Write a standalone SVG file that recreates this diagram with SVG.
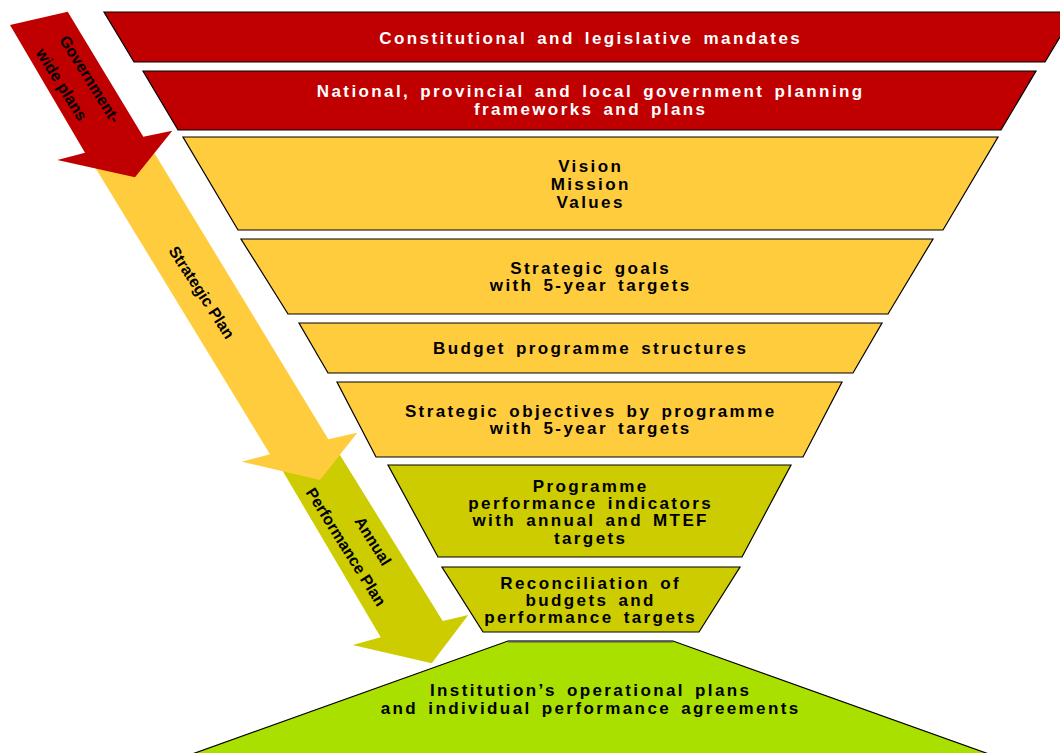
<svg xmlns="http://www.w3.org/2000/svg" width="1060" height="753" viewBox="0 0 1060 753">
<style>
.band{stroke:#000;stroke-width:1.2;stroke-linejoin:miter}
.red{fill:#C00000}
.yel{fill:#FFCC3E}
.olv{fill:#CCCC00}
.grn{fill:#AAE000}
.t{font-family:"Liberation Sans",Arial,sans-serif;font-weight:bold;font-size:17px;letter-spacing:2.4px;word-spacing:3px;text-anchor:middle;fill:#000}
.w{fill:#fff}
.a{font-family:"Liberation Sans",Arial,sans-serif;font-weight:bold;font-size:16px;text-anchor:middle;fill:#000}
</style>
<rect width="1060" height="753" fill="#fff"/>
<g id="connectors">
  <g id="arrow-app">
    <polygon class="olv" points="278,463 335,447 442.7,621 468.3,615 431.7,663.3 352.7,645 380.7,637.3"/>
  </g>
  <g id="arrow-sp">
    <polygon class="yel" points="91.5,161.5 149.8,145.5 328.3,439.3 357.3,432.7 320,480 241.7,461.7 270,454.3"/>
  </g>
  <g id="arrow-gwp">
    <polygon class="red" points="10,25 67.7,11.7 143.3,136.7 172.3,130.7 135,177.3 57.3,160 85,152.7"/>
  </g>
  <text class="a w" transform="translate(89.8,79.2) rotate(58)" y="5.5">Government-</text>
  <text class="a w" transform="translate(60.8,85) rotate(58)" y="4.5">wide plans</text>
  <text class="a" transform="translate(201.7,292.5) rotate(57)" y="5.5">Strategic Plan</text>
  <text class="a" transform="translate(373,541) rotate(58)" y="5.5">Annual</text>
  <text class="a" transform="translate(346,547) rotate(58)" y="5.5">Performance Plan</text>
</g>
<g id="n1">
  <polygon class="band red" points="104,12 1075,12 1045,62 134,62"/>
  <text class="t w" x="590.7" y="43.5">Constitutional and legislative mandates</text>
</g>
<g id="n2">
  <polygon class="band red" points="143,71 1036,71 1001,130 178,130"/>
  <text class="t w" x="590.7" y="97">National, provincial and local government planning</text>
  <text class="t w" x="590.7" y="115">frameworks and plans</text>
</g>
<g id="n3">
  <polygon class="band yel" points="183,137 998,137 943,230 238,230"/>
  <text class="t" x="590.7" y="171.5">Vision</text>
  <text class="t" x="590.7" y="189.5">Mission</text>
  <text class="t" x="590.7" y="207.5">Values</text>
</g>
<g id="n4">
  <polygon class="band yel" points="241,239 933,239 888,314 288,314"/>
  <text class="t" x="590.7" y="274">Strategic goals</text>
  <text class="t" x="590.7" y="291">with 5-year targets</text>
</g>
<g id="n5">
  <polygon class="band yel" points="299,323 882,323 853,373 328,373"/>
  <text class="t" x="590.7" y="354">Budget programme structures</text>
</g>
<g id="n6">
  <polygon class="band yel" points="337,382 842,382 803,457 376,457"/>
  <text class="t" x="590.7" y="416.5">Strategic objectives by programme</text>
  <text class="t" x="590.7" y="434">with 5-year targets</text>
</g>
<g id="n7">
  <polygon class="band olv" points="388,465 791,465 742,557 438,557"/>
  <text class="t" x="590.7" y="491.5">Programme</text>
  <text class="t" x="590.7" y="509">performance indicators</text>
  <text class="t" x="590.7" y="526">with annual and MTEF</text>
  <text class="t" x="590.7" y="543.5">targets</text>
</g>
<g id="n8">
  <polygon class="band olv" points="442,567 740,567 699,632 483,632"/>
  <text class="t" x="590.7" y="588.5">Reconciliation of</text>
  <text class="t" x="590.7" y="605.5">budgets and</text>
  <text class="t" x="590.7" y="622.5">performance targets</text>
</g>
<g id="n9">
  <polygon class="band grn" points="508,641 673,641 1005.6,760 175.4,760"/>
  <line x1="508" y1="641.5" x2="673" y2="641.5" stroke="#555" stroke-width="2"/>
  <text class="t" x="590.7" y="696">Institution’s operational plans</text>
  <text class="t" x="590.7" y="714">and individual performance agreements</text>
</g>
</svg>
